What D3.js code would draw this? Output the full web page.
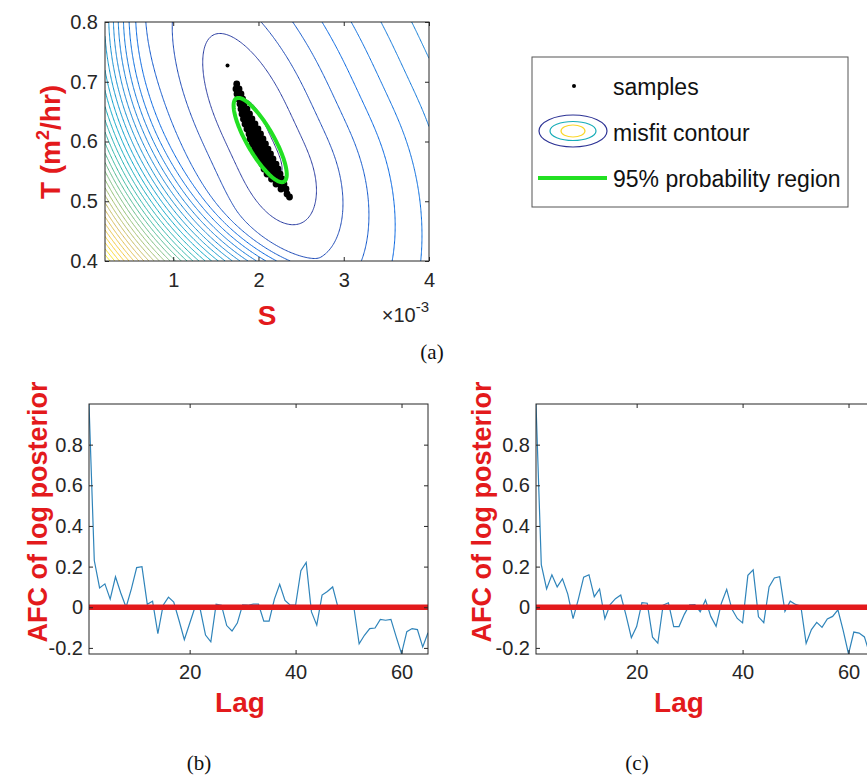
<!DOCTYPE html>
<html><head><meta charset="utf-8">
<script src="https://cdn.jsdelivr.net/npm/d3@7"></script>
<style>body{margin:0;background:#fff} svg{display:block}</style>
</head><body><svg id="c" width="867" height="781"></svg>
<script>
// ================= DATA =================
// (a) misfit surface over storativity S and transmissivity T (m^2/hr)
const sRange = [0.2e-3, 4e-3];
const tRange = [0.4, 0.8];
const sTicks = [1e-3, 2e-3, 3e-3, 4e-3];
const sTickLabels = ["1", "2", "3", "4"];
const tTicks = [0.4, 0.5, 0.6, 0.7, 0.8];
const tTickLabels = ["0.4", "0.5", "0.6", "0.7", "0.8"];
// misfit model (RMS residual, in contour-level units)
const misfitMin = [2.06e-3, 0.6];          // location of minimum (S, T)
const misfitFloor = [0.9];                 // noise floor
const misfitValleyAngle = [65];            // valley direction on the plot, degrees below horizontal
const misfitAcross = [19.5, 955];          // slope scale, saturation toward upper right
const misfitAlong = [3.6e-4, 70, 0.7];     // curvature along valley, softening, upper-left factor
const misfitFocus = [3.66e-3, 0.8033];     // centre of the steep lower-left rings (S, T)
const misfitRing = [250, 0.116, 1.15];     // ring radius, growth, exponent
const contourStep = [1];
// MCMC samples (S in 1e-3, T)
const sampleS = [1.745,
  1.736,1.772, 1.748,1.795, 1.766,1.814, 1.783,1.830, 1.795,1.842,1.865,
  1.807,1.854,1.895, 1.824,1.871,1.924, 1.842,1.889,1.936,1.959,
  1.865,1.912,1.959,1.994, 1.889,1.936,1.983,2.024, 1.901,1.948,1.994,2.030,2.053,
  1.924,1.971,2.018,2.053,2.082, 1.953,2.000,2.047,2.094,2.112,
  1.983,2.030,2.077,2.112,2.141, 2.006,2.053,2.100,2.147,2.170,
  2.041,2.088,2.135,2.182,2.206, 2.065,2.112,2.159,2.206,2.229,
  2.100,2.147,2.194,2.229,2.253, 2.153,2.200,2.241,2.276, 2.206,2.253,2.299,
  2.264,2.323, 2.335, 2.364, 1.637].map(v => v * 1e-3);
const sampleT = [0.6962,
  0.6879,0.6879, 0.6795,0.6795, 0.6711,0.6711, 0.6628,0.6628, 0.6544,0.6544,0.6544,
  0.6460,0.6460,0.6460, 0.6377,0.6377,0.6377, 0.6293,0.6293,0.6293,0.6293,
  0.6209,0.6209,0.6209,0.6209, 0.6126,0.6126,0.6126,0.6126, 0.6042,0.6042,0.6042,0.6042,0.6042,
  0.5958,0.5958,0.5958,0.5958,0.5958, 0.5874,0.5874,0.5874,0.5874,0.5874,
  0.5791,0.5791,0.5791,0.5791,0.5791, 0.5707,0.5707,0.5707,0.5707,0.5707,
  0.5623,0.5623,0.5623,0.5623,0.5623, 0.5540,0.5540,0.5540,0.5540,0.5540,
  0.5456,0.5456,0.5456,0.5456,0.5456, 0.5372,0.5372,0.5372,0.5372, 0.5289,0.5289,0.5289,
  0.5205,0.5205, 0.5121, 0.5071, 0.727];
// 95% probability region: centre and two conjugate semi-axes (S, T)
const regionCenter = [2.02e-3, 0.6025];
const regionAxisA = [0.2803e-3, -0.0696];
const regionAxisB = [0.1366e-3, 0.0113];
const legendLabels = ["samples", "misfit contour", "95% probability region"];

// (b), (c) autocorrelation of log posterior
const lagRange = [1, 65];
const lagTicks = [20, 40, 60];
const afcRange = [-0.23, 1];
const afcTicks = [-0.2, 0, 0.2, 0.4, 0.6, 0.8];
const afcTickLabels = ["-0.2", "0", "0.2", "0.4", "0.6", "0.8"];
const afcB = [1.0, 0.23, 0.095, 0.115, 0.04, 0.15, 0.07, 0.0, 0.09, 0.195,
  0.2, 0.015, 0.03, -0.13, 0.01, 0.05, 0.025, -0.065, -0.16, -0.08,
  0.0, -0.01, -0.137, -0.17, 0.015, 0.01, -0.09, -0.117, -0.078, 0.012,
  0.01, 0.015, 0.015, -0.068, -0.068, 0.04, 0.113, 0.034, 0.01, 0.01,
  0.18, 0.22, -0.023, -0.088, 0.06, 0.078, 0.1, 0.0, 0.0, 0.0,
  0.0, -0.18, -0.138, -0.105, -0.102, -0.06, -0.064, -0.06, -0.146, -0.228,
  -0.12, -0.105, -0.11, -0.195, -0.125];
const afcC = [1.0, 0.21, 0.09, 0.16, 0.1, 0.14, 0.065, -0.056, 0.04, 0.148,
  0.16, 0.052, 0.09, -0.056, 0.013, 0.042, 0.06, -0.04, -0.15, -0.095,
  0.023, 0.02, -0.147, -0.177, 0.01, 0.022, -0.095, -0.095, -0.035, 0.012,
  0.013, -0.022, 0.036, -0.045, -0.094, 0.02, 0.088, -0.01, -0.055, -0.077,
  0.157, 0.184, -0.047, -0.076, 0.1, 0.144, 0.15, -0.02, 0.03, 0.014,
  0.005, -0.178, -0.11, -0.074, -0.099, -0.058, -0.045, -0.013, -0.115, -0.23,
  -0.122, -0.127, -0.146, -0.23, -0.16];
const afcZero = [0];

// ================= STYLE =================
const FONT = '"Liberation Sans", Arial, Helvetica, sans-serif';
const SERIF = '"Liberation Serif", "Times New Roman", serif';
const AXC = "#262626";
const RED = "#e31a1c";
const LINEBLUE = "#2f84ba";
const GREEN = "#22e022";
const parula = d3.scaleLinear()
  .domain(d3.range(9).map(i => i / 8))
  .range(["#352a87","#0363e1","#1485d4","#06a7c6","#38b99e","#92bf73","#d9ba56","#fcce2e","#f9fb0e"])
  .clamp(true);

const svg = d3.select("#c");

function drawAxes(g, x, y, xTicks, xLabels, yTicks, yLabels, fs, padX, padY) {
  const [x0, x1] = x.range();
  const [y0, y1] = y.range();
  const tk = 4;
  const style = a => {
    a.select(".domain").remove();
    a.attr("font-family", FONT).attr("font-size", fs);
    a.selectAll("line").attr("stroke", AXC);
    a.selectAll("text").attr("fill", AXC);
  };
  g.append("g").attr("transform", `translate(0,${y0})`)
    .call(d3.axisBottom(x).tickValues(xTicks).tickFormat((d, i) => xLabels[i]).tickSizeInner(-tk).tickSizeOuter(0).tickPadding(padX)).call(style);
  g.append("g").attr("transform", `translate(0,${y1})`)
    .call(d3.axisTop(x).tickValues(xTicks).tickFormat("").tickSizeInner(-tk).tickSizeOuter(0)).call(style);
  g.append("g").attr("transform", `translate(${x0},0)`)
    .call(d3.axisLeft(y).tickValues(yTicks).tickFormat((d, i) => yLabels[i]).tickSizeInner(-tk).tickSizeOuter(0).tickPadding(padY)).call(style);
  g.append("g").attr("transform", `translate(${x1},0)`)
    .call(d3.axisRight(y).tickValues(yTicks).tickFormat("").tickSizeInner(-tk).tickSizeOuter(0)).call(style);
  g.append("rect").attr("x", x0).attr("y", y1).attr("width", x1 - x0).attr("height", y0 - y1)
    .attr("fill", "none").attr("stroke", AXC).attr("stroke-width", 1);
}

// ================= (a) misfit contour =================
(function () {
  const x = d3.scaleLinear().domain(sRange).range([105, 429]);
  const y = d3.scaleLinear().domain(tRange).range([261, 22]);
  const g = svg.append("g");
  g.append("clipPath").attr("id", "clipA").append("rect")
    .attr("x", 105).attr("y", 22).attr("width", 324).attr("height", 239);

  const cx = x(misfitMin[0]), cy = y(misfitMin[1]);
  const fx = x(misfitFocus[0]), fy = y(misfitFocus[1]);
  const ang = misfitValleyAngle[0] * Math.PI / 180;
  const ux = Math.cos(ang), uy = Math.sin(ang);
  const [aS, aSat] = misfitAcross;
  const [bC, bSoft, bUp] = misfitAlong;
  const [rR, rA, rP] = misfitRing;
  function misfit(S, T) {
    const px = x(S), py = y(T);
    const dx = px - cx, dy = py - cy;
    const P = dx * uy - dy * ux;     // across valley (+ toward upper right)
    const Q = dx * ux + dy * uy;     // along valley (+ toward lower right)
    const gP = P >= 0 ? (P / aS) / (1 + P / aSat) : (-P / aS);
    const hQ = bC * Q * Q / Math.sqrt(1 + (Q / bSoft) * (Q / bSoft)) * (Q < 0 ? bUp : 1);
    const R = Math.hypot(px - fx, py - fy);
    const w = R > rR ? rA * Math.pow(R - rR, rP) : 0;
    return Math.sqrt(misfitFloor[0] * misfitFloor[0] + gP * gP + hQ * hQ + w * w);
  }

  const nx = 241, ny = 201;
  const dS = (sRange[1] - sRange[0]) / (nx - 1), dT = (tRange[1] - tRange[0]) / (ny - 1);
  const Z = new Float64Array(nx * ny);
  for (let j = 0; j < ny; j++) for (let i = 0; i < nx; i++)
    Z[j * nx + i] = misfit(sRange[0] + i * dS, tRange[0] + j * dT);
  const zMin = d3.min(Z), zMax = d3.max(Z);
  const levels = d3.range(contourStep[0], zMax, contourStep[0]);
  const contours = d3.contours().size([nx, ny]).thresholds(levels)(Z);
  const proj = d3.geoTransform({
    point: function (px, py) {
      this.stream.point(x(sRange[0] + (px - 0.5) * dS), y(tRange[0] + (py - 0.5) * dT));
    }
  });
  const path = d3.geoPath(proj);
  g.append("g").attr("clip-path", "url(#clipA)")
    .selectAll("path").data(contours).join("path")
    .attr("d", path).attr("fill", "none")
    .attr("stroke", d => parula((d.value - zMin) / (zMax - zMin)))
    .attr("stroke-width", 1);

  // samples
  g.append("g").attr("clip-path", "url(#clipA)")
    .selectAll("circle").data(sampleS.map((s, i) => [s, sampleT[i]])).join("circle")
    .attr("cx", d => x(d[0])).attr("cy", d => y(d[1]))
    .attr("r", (d, i) => i === sampleS.length - 1 ? 2 : 3.4).attr("fill", "#000");

  // 95% region
  const th = d3.range(0, 2 * Math.PI + 0.01, Math.PI / 90);
  const ell = th.map(a => [regionCenter[0] + regionAxisA[0] * Math.cos(a) + regionAxisB[0] * Math.sin(a),
                           regionCenter[1] + regionAxisA[1] * Math.cos(a) + regionAxisB[1] * Math.sin(a)]);
  g.append("path").datum(ell)
    .attr("d", d3.line().x(d => x(d[0])).y(d => y(d[1])))
    .attr("fill", "none").attr("stroke", GREEN).attr("stroke-width", 4);

  drawAxes(g, x, y, sTicks, sTickLabels, tTicks, tTickLabels, 20, 12, 7);

  g.append("text").attr("x", 267).attr("y", 325).attr("text-anchor", "middle")
    .attr("font-family", FONT).attr("font-weight", "bold").attr("font-size", 28).attr("fill", RED).text("S");
  const ex = g.append("text").attr("x", 429).attr("y", 322).attr("text-anchor", "end")
    .attr("font-family", FONT).attr("font-size", 20).attr("fill", AXC);
  ex.append("tspan").text("\u00d710");
  ex.append("tspan").attr("dy", -10).attr("font-size", 15).text("-3");
  const tl = g.append("text").attr("transform", "translate(60,142) rotate(-90)").attr("text-anchor", "middle")
    .attr("font-family", FONT).attr("font-weight", "bold").attr("font-size", 28).attr("fill", RED);
  tl.append("tspan").text("T (m");
  tl.append("tspan").attr("dy", -11).attr("font-size", 18).text("2");
  tl.append("tspan").attr("dy", 11).text("/hr)");

  // legend
  const lg = svg.append("g");
  lg.append("rect").attr("x", 532).attr("y", 57).attr("width", 316).attr("height", 150)
    .attr("fill", "#fff").attr("stroke", "#555").attr("stroke-width", 1);
  lg.append("circle").attr("cx", 574).attr("cy", 86).attr("r", 2).attr("fill", "#000");
  [[34, 16, 0.02], [23, 9.5, 0.42], [12, 6, 0.9]].forEach(e => {
    lg.append("ellipse").attr("cx", 573).attr("cy", 131).attr("rx", e[0]).attr("ry", e[1])
      .attr("fill", "none").attr("stroke", parula(e[2])).attr("stroke-width", 1.2);
  });
  lg.append("line").attr("x1", 538).attr("x2", 607).attr("y1", 178).attr("y2", 178)
    .attr("stroke", GREEN).attr("stroke-width", 4);
  [95, 141, 187].forEach((yy, i) => {
    lg.append("text").attr("x", 613).attr("y", yy).attr("font-family", FONT).attr("font-size", 23)
      .attr("fill", "#111").text(legendLabels[i]);
  });
  svg.append("text").attr("x", 432).attr("y", 359).attr("text-anchor", "middle")
    .attr("font-family", SERIF).attr("font-size", 21).attr("fill", "#111").text("(a)");
})();

// ================= (b), (c) AFC =================
function afcPanel(data, xr, labelX, lagX, tagX, tag, id) {
  const x = d3.scaleLinear().domain(lagRange).range(xr);
  const y = d3.scaleLinear().domain(afcRange).range([654, 404]);
  const g = svg.append("g");
  g.append("clipPath").attr("id", id).append("rect")
    .attr("x", xr[0]).attr("y", 404).attr("width", xr[1] - xr[0]).attr("height", 250);
  const lags = d3.range(lagRange[0], lagRange[1] + 1);
  g.append("path").attr("clip-path", `url(#${id})`).datum(data)
    .attr("d", d3.line().x((d, i) => x(lags[i])).y(d => y(d)))
    .attr("fill", "none").attr("stroke", LINEBLUE).attr("stroke-width", 1.2);
  g.append("line").attr("x1", x(lagRange[0])).attr("x2", x(lagRange[1]))
    .attr("y1", y(afcZero[0])).attr("y2", y(afcZero[0])).attr("stroke", RED).attr("stroke-width", 5.5);
  drawAxes(g, x, y, lagTicks, lagTicks.map(String), afcTicks, afcTickLabels, 20, 11, 6);
  g.append("text").attr("transform", `translate(${labelX},512) rotate(-90)`).attr("text-anchor", "middle")
    .attr("font-family", FONT).attr("font-weight", "bold").attr("font-size", 27).attr("fill", RED)
    .text("AFC of log posterior");
  g.append("text").attr("x", lagX).attr("y", 712).attr("text-anchor", "middle")
    .attr("font-family", FONT).attr("font-weight", "bold").attr("font-size", 28).attr("fill", RED).text("Lag");
  svg.append("text").attr("x", tagX).attr("y", 770).attr("text-anchor", "middle")
    .attr("font-family", SERIF).attr("font-size", 21).attr("fill", "#111").text(tag);
}
afcPanel(afcB, [89, 428], 47, 240, 199, "(b)", "clipB");
afcPanel(afcC, [536, 875], 491, 679, 637, "(c)", "clipC");
</script></body></html>
